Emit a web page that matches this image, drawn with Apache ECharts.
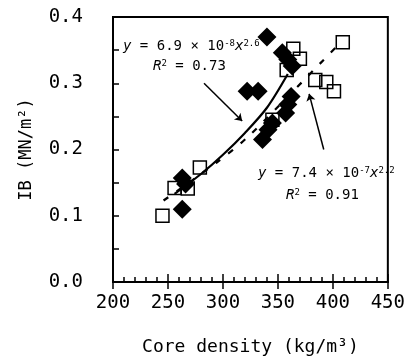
<!DOCTYPE html>
<html>
<head>
<meta charset="utf-8">
<script src="https://cdn.jsdelivr.net/npm/echarts@6/dist/echarts.min.js"></script>
<style>
  html, body { margin: 0; padding: 0; background: #fff; }
  #chart { width: 408px; height: 361px; }
</style>
</head>
<body>
<div id="chart"></div>
<script>
// black diamonds
var diamondX = [340, 354, 359, 363, 322, 332, 362, 359, 357, 345, 341, 336, 263, 266, 263];
var diamondY = [0.370, 0.346, 0.336, 0.326, 0.288, 0.288, 0.280, 0.268, 0.255, 0.240, 0.230, 0.215, 0.157, 0.148, 0.110];
// open squares
var squareX = [245, 256, 268, 279, 345, 358, 364, 370, 384, 394, 401, 409];
var squareY = [0.100, 0.142, 0.141, 0.173, 0.245, 0.320, 0.352, 0.337, 0.305, 0.302, 0.288, 0.362];
// fitted curves
var solidX = [256, 280, 300, 320, 340, 359];
var solidY = [0.133, 0.163, 0.192, 0.225, 0.263, 0.314];
var dashX = [246, 294, 322, 365, 392, 405];
var dashY = [0.123, 0.180, 0.218, 0.290, 0.336, 0.358];
// arrows: [fromX, fromY, toX, toY]
var arrows = [
  [282.8, 0.300, 317.5, 0.243],
  [391.7, 0.200, 378.4, 0.284]
];

function pairs(xs, ys) {
  return xs.map(function (x, i) { return [x, ys[i]]; });
}

var font = 'DejaVu Sans Mono';
var chart = echarts.init(document.getElementById('chart'));

var xAxisBase = {
  type: 'value',
  min: 200,
  max: 450,
  interval: 50,
  position: 'bottom',
  axisLine: { show: true, onZero: false, lineStyle: { color: '#000', width: 2 } },
  splitLine: { show: false }
};

var supRich = {
  i: { fontStyle: 'italic', fontSize: 14, fontFamily: font },
  s: { fontSize: 9, fontFamily: font, verticalAlign: 'top' }
};

var option = {
  animation: false,
  grid: {
    left: 113, top: 17, width: 283, height: 266,
    show: true, borderColor: '#000', borderWidth: 2
  },
  xAxis: [
    Object.assign({}, xAxisBase, {
      name: 'Core density (kg/m³)',
      nameLocation: 'middle',
      nameGap: 56,
      nameTextStyle: { color: '#000', fontSize: 18, fontFamily: font },
      axisTick: { show: true, inside: true, length: 8, lineStyle: { color: '#000', width: 1.5 } },
      minorTick: { show: true, splitNumber: 5, length: 5, lineStyle: { color: '#000', width: 1.5 } },
      axisLabel: { color: '#000', fontSize: 19, fontFamily: font, margin: 12 }
    }),
    Object.assign({}, xAxisBase, {
      axisTick: { show: true, inside: false, length: 7, lineStyle: { color: '#000', width: 1.5 } },
      axisLabel: { show: false }
    })
  ],
  yAxis: {
    type: 'value',
    min: 0,
    max: 0.4,
    interval: 0.1,
    name: 'IB (MN/m²)',
    nameLocation: 'middle',
    nameGap: 78,
    nameTextStyle: { color: '#000', fontSize: 17, fontFamily: font },
    axisLine: { show: true, lineStyle: { color: '#000', width: 2 } },
    axisTick: { show: true, inside: true, length: 6, lineStyle: { color: '#000', width: 1.5 } },
    minorTick: { show: true, splitNumber: 2, length: 6, lineStyle: { color: '#000', width: 1.5 } },
    splitLine: { show: false },
    axisLabel: {
      color: '#000', fontSize: 19, fontFamily: font, margin: 30,
      formatter: function (v) { return v.toFixed(1); }
    }
  },
  series: [
    {
      type: 'line',
      data: pairs(solidX, solidY),
      smooth: 0.3,
      symbol: 'none',
      lineStyle: { color: '#000', width: 2.2 },
      z: 3
    },
    {
      type: 'line',
      data: pairs(dashX, dashY),
      smooth: 0.3,
      symbol: 'none',
      lineStyle: { color: '#000', width: 2.2, type: [6, 10] },
      z: 3
    },
    {
      type: 'scatter',
      data: pairs(diamondX, diamondY),
      symbol: 'diamond',
      symbolSize: 19,
      itemStyle: { color: '#000', opacity: 1 },
      z: 4
    },
    {
      type: 'scatter',
      data: pairs(squareX, squareY),
      symbol: 'rect',
      symbolSize: 13,
      itemStyle: { color: 'rgba(255,255,255,0)', borderColor: '#000', borderWidth: 1.5, opacity: 1 },
      z: 5,
      markLine: {
        silent: true,
        symbol: ['none', 'arrow'],
        symbolSize: 7,
        label: { show: false },
        lineStyle: { color: '#000', width: 1.5, type: 'solid' },
        data: arrows.map(function (a) {
          return [{ coord: [a[0], a[1]] }, { coord: [a[2], a[3]] }];
        })
      }
    }
  ],
  graphic: [
    {
      type: 'text', left: 123, top: 39,
      style: {
        text: '{i|y} = 6.9 × 10{s|-8}{i|x}{s|2.6}',
        fill: '#000', fontSize: 14, fontFamily: font, rich: supRich
      }
    },
    {
      type: 'text', left: 153, top: 59,
      style: {
        text: '{i|R}{s|2} = 0.73',
        fill: '#000', fontSize: 14, fontFamily: font, rich: supRich
      }
    },
    {
      type: 'text', left: 258, top: 166,
      style: {
        text: '{i|y} = 7.4 × 10{s|-7}{i|x}{s|2.2}',
        fill: '#000', fontSize: 14, fontFamily: font, rich: supRich
      }
    },
    {
      type: 'text', left: 286, top: 188,
      style: {
        text: '{i|R}{s|2} = 0.91',
        fill: '#000', fontSize: 14, fontFamily: font, rich: supRich
      }
    }
  ]
};

chart.setOption(option);
</script>
</body>
</html>
